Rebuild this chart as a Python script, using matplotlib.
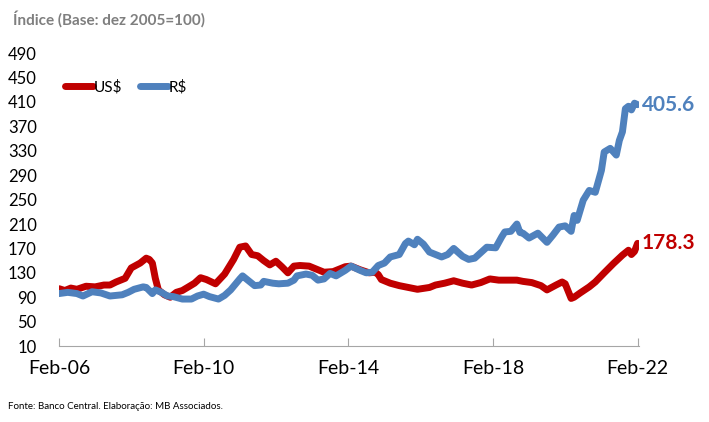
import pandas as pd
import matplotlib.pyplot as plt
import matplotlib.dates as mdates

# meses contados a partir de fev/2006
meses_usd = [0, 2, 4, 6, 9, 12, 15, 17, 19, 22, 24, 27, 29, 30, 31, 32, 33, 35, 37, 39,
             41, 43, 45, 47, 49, 52, 55, 58, 60, 62, 64, 66, 68, 70, 72, 74, 76, 78, 80, 83,
             86, 88, 91, 93, 95, 97, 100, 103, 105, 106, 107, 110, 113, 116, 119, 123, 125, 128, 131, 134, 137,
             140, 143, 146, 149, 152, 154, 157, 160, 162, 165, 167, 168, 170, 171, 173, 176, 178, 181, 184, 187,
             189, 190, 191, 192]
usd = [104, 101, 105, 103, 108, 107, 110, 110, 115, 121, 138, 146, 154, 152, 146, 121, 102, 94, 90, 98,
       101, 107, 113, 122, 119, 112, 128, 152, 172, 174, 160, 158, 150, 143, 149, 140, 130, 141, 142, 141,
       135, 131, 132, 136, 140, 141, 135, 130, 131, 127, 119, 113, 109, 106, 103, 106, 110, 113, 117, 113, 110,
       114, 120, 118, 118, 118, 116, 114, 109, 102, 110, 115, 112, 88, 90, 97, 107, 115, 130, 145, 159,
       167, 160, 165, 178.3]

meses_brl = [0, 3, 6, 8, 11, 14, 17, 19, 21, 23, 25, 28, 29, 31, 32, 34, 36, 38, 41, 44,
             46, 48, 50, 53, 55, 57, 60, 61, 63, 65, 67, 68, 71, 73, 76, 78, 79, 82, 84, 86,
             88, 90, 92, 95, 97, 100, 102, 104, 106, 108, 110, 113, 115, 116, 118, 119, 121, 123, 127, 129, 131,
             134, 136, 138, 140, 142, 145, 147, 148, 150, 152, 153, 154, 156, 159, 162, 164, 166, 168, 170, 171,
             172, 174, 176, 178, 180, 181, 183, 185, 186, 187, 188, 189, 190, 191, 192]
brl = [96, 98, 96, 92, 99, 97, 92, 93, 94, 98, 103, 107, 106, 96, 102, 98, 92, 91, 87, 87,
       92, 95, 91, 87, 93, 102, 120, 125, 117, 109, 110, 116, 113, 112, 113, 118, 125, 128, 126, 118,
       120, 129, 125, 134, 141, 134, 130, 131, 142, 146, 156, 160, 178, 182, 176, 185, 177, 164, 156, 160, 170,
       157, 152, 154, 163, 172, 171, 189, 197, 198, 210, 196, 195, 187, 195, 180, 192, 205, 207, 198, 224,
       216, 249, 265, 262, 298, 328, 334, 323, 347, 361, 399, 403, 397, 408, 405.6]

y_ticks = list(range(10, 491, 40))
x_ticks = ["2006-02", "2010-02", "2014-02", "2018-02", "2022-02"]

base = pd.Period("2006-02", freq="M")
datas_usd = [(base + m).to_timestamp() for m in meses_usd]
datas_brl = [(base + m).to_timestamp() for m in meses_brl]

plt.rcParams['font.family'] = ['Lato', 'DejaVu Sans']

fig = plt.figure(figsize=(7.09, 4.22), dpi=100)
ax = fig.add_axes([0.0832, 0.180, 0.818, 0.694])

vermelho = '#C00000'
azul = '#4F81BD'
ax.plot(datas_usd, usd, color=vermelho, lw=5, solid_capstyle='round', solid_joinstyle='round', label='US$')
ax.plot(datas_brl, brl, color=azul, lw=5, solid_capstyle='round', solid_joinstyle='round', label='R$')

ax.set_ylim(10, 490)
ax.set_yticks(y_ticks)
ax.set_xlim(pd.Timestamp("2006-02-01"), pd.Timestamp("2022-02-15"))
ax.set_xticks([pd.Timestamp(d) for d in x_ticks])
ax.xaxis.set_major_formatter(mdates.DateFormatter('%b-%y'))

for s in ['top', 'right', 'left']:
    ax.spines[s].set_visible(False)
ax.spines['bottom'].set_color('#a6a6a6')
ax.tick_params(axis='y', length=0, labelsize=12, pad=16)
ax.tick_params(axis='x', direction='in', length=6, color='#a6a6a6', labelsize=14, pad=10)

ax.text(1.005, usd[-1], '178.3', transform=ax.get_yaxis_transform(), color=vermelho,
        fontsize=15, fontweight='bold', va='center', ha='left')
ax.text(1.005, brl[-1], '405.6', transform=ax.get_yaxis_transform(), color=azul,
        fontsize=15, fontweight='bold', va='center', ha='left')

ax.legend(loc='upper left', bbox_to_anchor=(0.0, 0.93), ncol=2, frameon=False, fontsize=11,
          handlelength=1.8, handletextpad=0.05, columnspacing=1.2, borderaxespad=0)

fig.text(0.018, 0.955, 'Índice (Base: dez 2005=100)', color='#7f7f7f', fontsize=11,
         fontweight='bold', va='center')
fig.text(0.011, 0.037, 'Fonte: Banco Central. Elaboração: MB Associados.', fontsize=7, va='center')

fig.savefig('out.png', dpi=100)
